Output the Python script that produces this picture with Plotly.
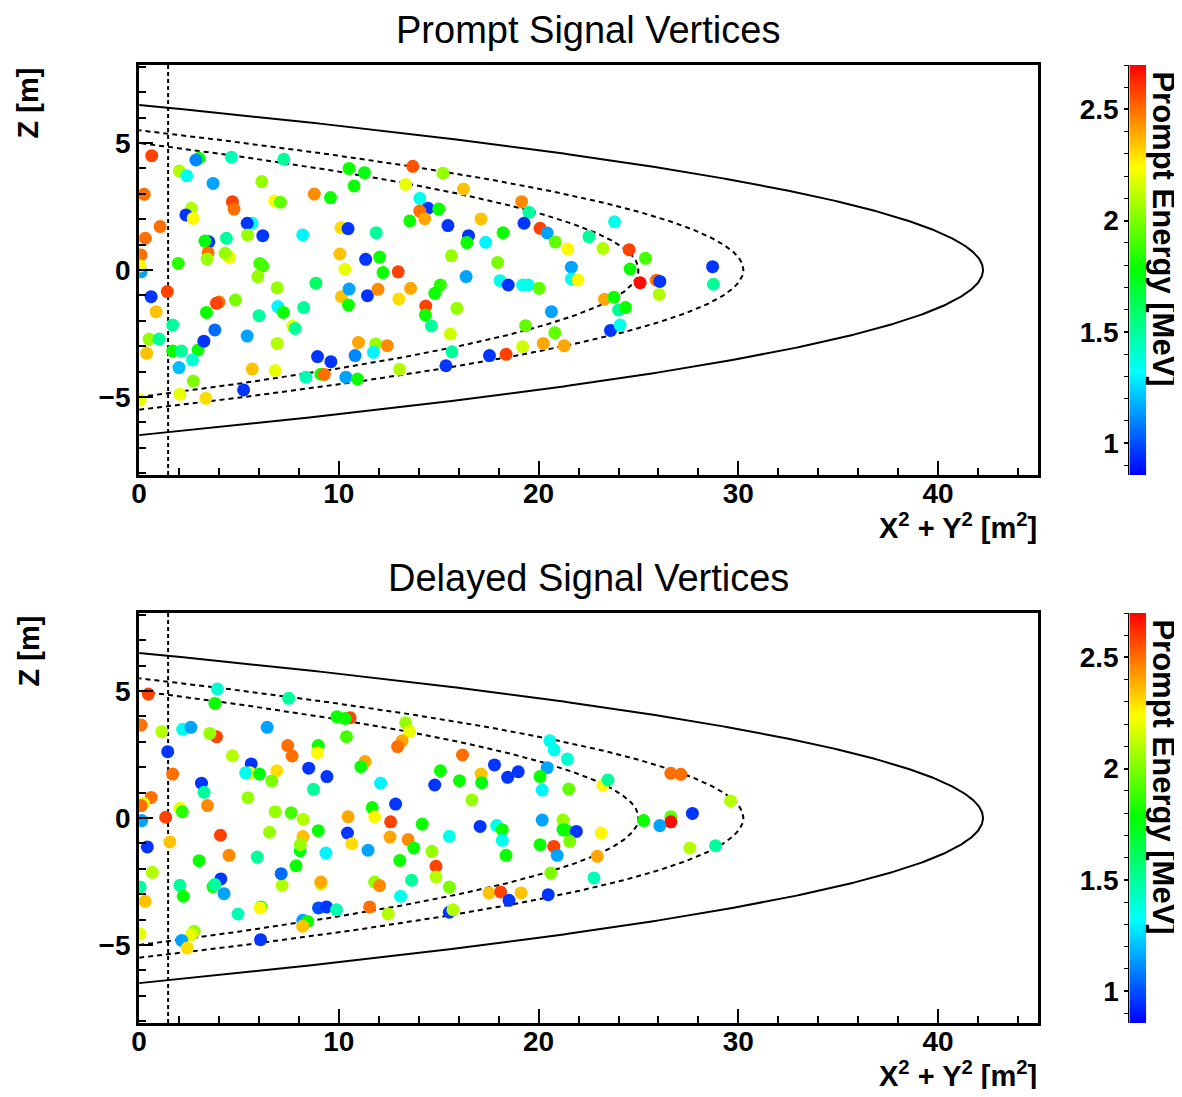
import numpy as np
import plotly.graph_objects as go

# ---------------- data ----------------
# Prompt panel: (X^2+Y^2 [m^2], Z [m], prompt energy [MeV])
prompt_r2 = [0.63, 3.0, 2.84, 4.62, 7.24, 2.01, 2.38, 3.70, 6.14, 10.51, 11.28, 13.70, 10.76, 13.34,
             0.25, 4.67, 4.75, 6.78, 7.07, 8.77, 9.58, 14.05, 14.46, 14.05, 14.30, 13.55, 2.62, 2.34,
             2.71, 1.05, 0.31, 0.10, 0.10, 0.05, 5.66, 5.41, 5.43, 6.19, 8.19, 4.37, 3.49, 3.29, 3.45,
             3.40, 4.53, 4.30, 1.96, 6.04, 6.19, 10.10, 10.46, 11.87, 10.05, 11.34, 12.04, 10.30, 12.21,
             12.97, 5.94,
             15.21, 16.24, 15.0, 15.46, 16.49, 16.41, 17.12, 17.35, 18.22, 15.63, 17.95, 19.15, 19.52,
             19.27, 20.07, 20.43, 20.84, 21.46, 21.64, 22.52, 23.22, 23.80, 24.53, 25.35, 24.58, 28.71,
             16.37, 18.07, 18.48, 19.2, 19.48, 20.03, 21.64, 21.97, 15.08, 14.80, 14.35, 14.33, 14.63,
             15.91, 15.58, 15.66, 15.36, 17.54, 18.37, 19.20, 20.23, 21.28, 19.35, 20.81, 20.64, 23.30,
             23.77, 24.0, 24.35, 23.60, 24.08, 25.08, 25.9, 26.07, 26.04, 28.75,
             0.60, 1.41, 0.85, 0.50, 1.0, 0.38, 0.05, 1.68, 1.68, 2.12, 2.95, 3.24, 3.79, 3.37, 4.0,
             3.87, 4.82, 1.99, 2.67, 2.71, 2.04, 3.34, 6.0, 6.91, 6.94, 7.22, 7.69, 7.81, 8.24, 8.85,
             5.41, 6.91, 5.66, 6.81, 5.23, 8.35, 9.1, 9.27, 8.93, 9.6, 10.35, 10.93, 10.98, 10.81, 11.84,
             12.42, 11.73, 13.04, 10.13, 10.51, 10.48, 11.43, 11.96, 13.59, 13.0]
prompt_z = [4.50, 4.40, 4.33, 4.44, 4.36, 3.90, 3.71, 3.41, 3.48, 4.0, 3.83, 4.08, 3.31, 3.37,
            2.98, 2.69, 2.40, 2.72, 2.67, 2.99, 2.85, 2.82, 2.43, 2.32, 2.02, 1.93, 2.43, 2.17,
            2.03, 1.71, 1.25, 0.59, -0.07, 0.16, 1.84, 1.84, 1.38, 1.35, 1.38, 1.25, 1.11, 1.14, 0.68,
            0.43, 0.50, 0.66, 0.26, 0.26, 0.16, 1.67, 1.63, 1.47, 0.63, 0.42, 0.51, 0.03, -0.10,
            -0.07, -0.26,
            3.81, 3.19, 2.40, 1.75, 1.35, 1.08, 2.01, 1.09, 1.47, 0.56, 0.30, 2.69, 2.27,
            1.84, 1.64, 1.46, 1.10, 0.83, 0.11, 1.31, 0.85, 1.90, 0.80, 0.46, 0.04, 0.13,
            -0.26, -0.42, -0.59, -0.59, -0.59, -0.72, -0.35, -0.39, -0.59, -0.92, -1.42, -1.77, -2.20,
            -1.51, -2.52, -3.22, -3.77, -3.37, -3.32, -3.02, -2.89, -2.98, -2.19, -2.47, -1.64, -1.15,
            -1.07, -1.57, -1.48, -2.38, -2.17, -0.50, -0.40, -0.45, -0.96, -0.56,
            -1.05, -0.85, -1.64, -2.72, -2.72, -3.28, -5.12, -2.17, -3.19, -3.19, -3.15, -2.80, -2.36, -1.67, -1.26,
            -1.31, -1.18, -3.84, -3.54, -4.37, -4.89, -5.05, -1.80, -0.70, -1.44, -1.67, -2.20, -2.30, -1.48, -0.52,
            -2.60, -2.89, -3.90, -3.96, -4.72, -4.22, -4.10, -4.11, -3.41, -3.61, -4.22, -4.29, -2.85, -3.37, -2.91,
            -2.98, -3.24, -3.91, -1.05, -0.75, -1.38, -1.01, -0.76, -0.72, -1.14]
prompt_e = [2.58, 1.8, 1.1, 1.45, 1.5, 2.1, 1.35, 1.15, 2.05, 1.8, 1.75, 2.55, 1.8, 2.2,
            2.5, 2.58, 2.5, 2.25, 1.95, 2.45, 1.8, 1.35, 0.95, 2.5, 2.4, 1.8, 2.1, 0.95,
            2.25, 2.5, 2.5, 2.5, 1.15, 2.25, 1.35, 0.95, 2.05, 0.95, 1.3, 1.5, 0.95, 1.75, 2.5,
            2.05, 2.2, 2.05, 1.85, 1.9, 1.9, 2.3, 0.95, 1.5, 2.35, 0.95, 1.8, 2.2, 1.8,
            2.58, 2.05,
            2.05, 2.35, 1.8, 0.95, 0.95, 1.8, 2.35, 1.3, 1.8, 2.05, 2.0, 2.45, 1.5,
            0.95, 2.58, 1.15, 1.95, 2.25, 1.15, 1.5, 2.1, 1.35, 2.58, 1.9, 1.8, 0.95,
            1.15, 1.35, 0.95, 1.35, 1.35, 1.95, 1.35, 2.25, 1.85, 1.8, 2.58, 1.8, 1.5,
            2.05, 2.15, 1.5, 0.95, 0.95, 2.58, 2.15, 2.4, 2.4, 1.95, 1.95, 1.15, 2.4,
            1.8, 1.5, 1.8, 0.95, 1.35, 2.68, 2.5, 0.95, 2.1, 1.5,
            0.95, 2.58, 2.35, 2.05, 1.5, 2.35, 2.2, 1.5, 1.8, 1.5, 1.8, 0.95, 1.05, 1.8, 2.5,
            2.58, 2.0, 1.2, 1.4, 2.0, 2.2, 2.3, 1.5, 2.05, 1.3, 1.8, 2.2, 1.5, 1.5, 1.6,
            1.15, 2.1, 2.35, 2.2, 0.95, 1.45, 1.8, 2.5, 0.95, 0.95, 1.15, 1.8, 2.4, 1.1, 2.05,
            2.45, 1.3, 2.1, 2.35, 1.15, 1.8, 0.95, 2.45, 2.4, 2.3]

# Delayed panel: (X^2+Y^2 [m^2], Z [m], prompt energy [MeV])
delayed_r2 = [0.46, 3.92, 3.79, 7.49, 10.56, 9.9, 10.31, 13.34, 13.54, 13.17, 12.94, 10.38, 0.10, 1.13,
              2.18, 2.59, 3.87, 3.54, 6.41, 1.43, 1.68, 4.67, 5.61, 5.55, 5.33, 6.03, 6.89, 6.64, 7.44,
              7.66, 8.97, 8.93, 8.49, 9.40, 8.73, 3.12, 3.25, 3.42, 5.45, 0.60, 0.21, 0.10, 2.04, 2.16,
              1.33, 0.13, 6.81, 7.61, 8.21, 10.46, 11.67, 11.79, 12.84, 12.59, 12.09, 11.31, 11.1, 14.8,
              14.17,
              20.56, 20.78, 21.44, 16.19, 17.79, 15.08, 16.04, 17.12, 17.15, 18.45, 18.98, 16.66, 20.43,
              20.07, 20.18, 21.51, 23.22, 23.47, 26.62, 27.12, 29.61, 27.70, 26.62, 26.62, 25.26, 26.07,
              20.18, 21.22, 17.07, 17.9,
              21.22, 21.39, 21.89, 21.56, 23.14, 18.18, 18.18, 18.37, 15.53, 20.07, 20.76, 20.93, 22.94,
              27.57, 28.86, 14.66, 14.86, 14.86, 15.53, 20.61, 22.77, 17.52, 18.1, 19.12, 18.52, 20.48,
              15.53, 15.71,
              0.41, 1.54, 0.66, 0.05, 0.3, 0.05, 3.0, 2.04, 2.21, 4.07, 4.50, 4.09, 3.7, 3.79, 4.25,
              4.95, 2.76, 2.6, 2.13, 2.41, 6.08, 5.91, 6.53, 7.16, 7.11, 6.1, 6.06, 7.86, 8.06, 8.2,
              8.07, 8.97, 9.35, 10.43, 10.65, 11.46, 12.56, 13.47, 13.75, 13.05, 9.1, 9.1, 11.79, 12.04,
              13.64, 13.09, 11.54, 12.47, 8.98, 9.38, 9.88, 8.19, 8.44, 8.19]
delayed_z = [4.88, 5.08, 4.51, 4.71, 3.95, 3.99, 3.92, 3.75, 3.40, 3.04, 2.81, 3.20, 3.66, 3.40,
             3.49, 3.57, 3.20, 3.33, 3.57, 2.61, 1.73, 2.45, 2.13, 1.78, 1.78, 1.73, 1.86, 1.46, 2.85,
             2.44, 2.85, 2.57, 1.96, 1.63, 1.13, 1.37, 1.01, 0.49, 0.80, 0.81, 0.58, 0.49, 0.38, 0.25,
             0.03, -0.10, 0.25, 0.21, -0.05, 0.05, 0.41, 0.05, 0.55, -0.15, 1.37, 2.22, 2.02, 1.30,
             -0.24,
             3.04, 2.68, 2.32, 2.48, 2.09, 1.86, 1.47, 1.73, 1.39, 1.60, 1.82, 0.71, 1.98,
             1.63, 1.10, 1.14, 1.29, 1.50, 1.76, 1.72, 0.67, 0.18, 0.05, -0.15, -0.10, -0.30,
             -0.08, -0.08, -0.33, -0.30,
             -0.46, -0.49, -0.53, -0.92, -0.59, -0.46, -0.88, -1.47, -0.72, -1.05, -1.12, -1.47, -1.51,
             -1.18, -1.09, -1.31, -1.90, -2.32, -2.72, -2.17, -2.36, -2.95, -2.91, -2.95, -3.24, -3.02,
             -3.71, -3.61,
             -1.14, -0.94, -2.14, -2.72, -3.28, -4.57, -1.68, -2.65, -3.08, -0.68, -1.47, -2.40, -2.70, -2.62, -2.98,
             -3.78, -4.46, -4.60, -4.82, -5.12, -4.79, -1.54, -0.56, -2.65, -2.19, -3.50, -3.54, -1.88, -1.29, -0.73,
             -1.05, -0.50, -1.38, -0.59, -1.01, -1.27, -0.75, -0.85, -1.18, -1.67, -2.60, -2.52, -2.52, -2.66,
             -2.45, -3.08, -3.50, -3.78, -3.54, -3.50, -3.61, -4.03, -4.07, -4.26]
delayed_e = [2.58, 1.4, 1.8, 1.5, 2.58, 1.8, 1.8, 2.05, 2.2, 2.4, 2.5, 1.9, 2.5, 2.1,
             1.35, 1.15, 2.58, 2.05, 1.15, 0.95, 2.5, 2.1, 0.95, 2.2, 1.35, 1.75, 2.3, 2.0, 2.5,
             2.5, 1.8, 2.25, 0.95, 0.95, 1.5, 0.95, 1.5, 2.45, 2.05, 2.5, 2.2, 2.5, 2.2, 1.85,
             2.58, 1.15, 2.05, 1.9, 2.1, 2.4, 1.8, 2.25, 0.95, 2.58, 1.3, 2.4, 1.8, 0.95,
             1.8,
             1.35, 1.35, 1.4, 2.5, 0.95, 1.8, 1.8, 2.35, 1.75, 0.95, 0.95, 2.05, 1.15,
             1.8, 1.3, 1.95, 2.25, 1.5, 2.5, 2.5, 2.1, 0.95, 1.95, 2.68, 1.8, 1.15,
             1.15, 2.05, 0.95, 1.35,
             1.75, 1.8, 0.95, 2.0, 2.25, 1.8, 1.35, 1.8, 1.35, 1.8, 2.58, 1.15, 2.4,
             2.1, 1.5, 2.05, 2.58, 2.1, 2.0, 2.0, 1.45, 2.35, 2.58, 2.35, 0.95, 0.95,
             0.95, 2.1,
             0.95, 2.35, 2.1, 1.5, 2.35, 2.2, 1.8, 1.5, 1.8, 2.58, 2.45, 0.95, 1.8, 1.5, 1.15,
             1.45, 2.05, 2.2, 1.15, 2.3, 0.95, 1.5, 2.05, 2.1, 1.05, 1.8, 2.25, 1.8, 1.75, 2.35,
             2.05, 1.8, 1.3, 0.95, 2.3, 1.15, 2.4, 2.45, 1.8, 1.8, 2.15, 2.4, 2.05, 2.45,
             1.5, 1.35, 2.5, 2.1, 1.0, 0.95, 1.45, 1.15, 1.8, 2.35]

panel_titles = ["Prompt Signal Vertices", "Delayed Signal Vertices"]
x_title = "X<sup>2</sup> + Y<sup>2</sup> [m<sup>2</sup>]"
y_title = "Z [m]"
cbar_title = "Prompt Energy [MeV]"

# detector boundaries (radii in m) and the r^2 cut line
solid_radius = 6.5
dotted_radii = [5.5, 5.0]
r2_cut = 1.45

E_MIN, E_MAX = 0.856, 2.70
X_RANGE = [0, 45]
Z_RANGE = [-8.07, 8.07]

# ---------------- styling ----------------
PAGE_W, PAGE_H = 1182, 1097
OFF = 8                      # default body margin of the html page
W, H = PAGE_W - 2 * OFF, PAGE_H - 2 * OFF
FONT = "Liberation Sans"
cscale = [[0.0, "rgb(0,0,255)"], [0.25, "rgb(0,255,255)"], [0.5, "rgb(0,255,0)"],
          [0.75, "rgb(255,255,0)"], [1.0, "rgb(255,0,0)"]]

def px2x(p):
    return (p - OFF) / W

def py2y(p):
    return 1 - (p - OFF) / H

panel_px = [(65, 475), (613, 1023)]
X0, X1 = 132, 1037
CB0, CB1 = 1129, 1146

fig = go.Figure()

datasets = [(prompt_r2, prompt_z, prompt_e), (delayed_r2, delayed_z, delayed_e)]
zz = np.linspace(-solid_radius, solid_radius, 401)

for i, (r2, z, e) in enumerate(datasets):
    xa = "x" if i == 0 else "x2"
    ya = "y" if i == 0 else "y2"
    fig.add_trace(go.Scatter(x=solid_radius**2 - zz**2, y=zz, mode="lines",
                             line=dict(color="black", width=2), xaxis=xa, yaxis=ya,
                             showlegend=False, hoverinfo="skip"))
    for R in dotted_radii:
        zr = np.linspace(-R, R, 401)
        fig.add_trace(go.Scatter(x=R**2 - zr**2, y=zr, mode="lines",
                                 line=dict(color="black", width=2, dash="5px,4px"),
                                 xaxis=xa, yaxis=ya, showlegend=False, hoverinfo="skip"))
    fig.add_trace(go.Scatter(x=[r2_cut, r2_cut], y=Z_RANGE, mode="lines",
                             line=dict(color="black", width=2, dash="4px,3px"),
                             xaxis=xa, yaxis=ya, showlegend=False, hoverinfo="skip"))
    fig.add_trace(go.Scatter(x=r2, y=z, mode="markers", xaxis=xa, yaxis=ya,
                             marker=dict(size=13, color=e, colorscale=cscale, cmin=E_MIN, cmax=E_MAX,
                                         line=dict(width=0)),
                             showlegend=False))
    levels = np.linspace(E_MIN, E_MAX, 300)
    cxa = "x3" if i == 0 else "x4"
    cya = "y3" if i == 0 else "y4"
    fig.add_trace(go.Heatmap(x=[0], y=levels, z=[[v] for v in levels], colorscale=cscale,
                             zmin=E_MIN, zmax=E_MAX, showscale=False, xaxis=cxa, yaxis=cya,
                             hoverinfo="skip"))

tickfont = dict(family=FONT, size=28, color="black", weight="bold")

def frame_x(dom, anchor):
    return dict(domain=dom, range=X_RANGE, anchor=anchor, showgrid=False, zeroline=False,
                showline=True, linewidth=3, linecolor="black", mirror=True,
                ticks="inside", ticklen=14, tickwidth=2, tickcolor="black", dtick=10, tick0=0,
                minor=dict(dtick=2, ticks="inside", ticklen=7, tickwidth=2, tickcolor="black"),
                tickfont=tickfont, ticklabelstandoff=-9)

def frame_y(dom, anchor):
    return dict(domain=dom, range=Z_RANGE, anchor=anchor, showgrid=False, zeroline=False,
                showline=True, linewidth=3, linecolor="black", mirror=True,
                ticks="inside", ticklen=14, tickwidth=2, tickcolor="black", dtick=5, tick0=0,
                minor=dict(dtick=1, ticks="inside", ticklen=7, tickwidth=2, tickcolor="black"),
                tickfont=tickfont)

def cb_x(dom, anchor):
    return dict(domain=dom, range=[-0.5, 0.5], anchor=anchor, showgrid=False, zeroline=False,
                showticklabels=False, ticks="", showline=False)

def cb_y(dom, anchor):
    return dict(domain=dom, range=[E_MIN, E_MAX], anchor=anchor, side="left", showgrid=False,
                zeroline=False, showline=True, linewidth=1, linecolor="black",
                ticks="outside", ticklen=4, tickwidth=1.5, tickcolor="black", dtick=0.5, tick0=1,
                minor=dict(dtick=0.1, ticks="outside", ticklen=4, tickwidth=1, tickcolor="black"),
                tickfont=tickfont)

xdom = [px2x(X0), px2x(X1)]
cbdom = [px2x(CB0), px2x(CB1)]
ydoms = [[py2y(b), py2y(t)] for (t, b) in panel_px]

fig.update_layout(
    width=W, height=H, margin=dict(l=0, r=0, t=0, b=0),
    paper_bgcolor="white", plot_bgcolor="white",
    font=dict(family=FONT, color="black"),
    xaxis=frame_x(xdom, "y"), yaxis=frame_y(ydoms[0], "x"),
    xaxis2=frame_x(xdom, "y2"), yaxis2=frame_y(ydoms[1], "x2"),
    xaxis3=cb_x(cbdom, "y3"), yaxis3=cb_y(ydoms[0], "x3"),
    xaxis4=cb_x(cbdom, "y4"), yaxis4=cb_y(ydoms[1], "x4"),
)

annotations = []
title_y = [30, 578]
for i in range(2):
    top, bot = panel_px[i]
    annotations.append(dict(text=panel_titles[i], x=px2x(584), y=py2y(title_y[i]), xref="paper", yref="paper",
                            xanchor="center", yanchor="middle", showarrow=False,
                            font=dict(family=FONT, size=38, color="black")))
    annotations.append(dict(text=x_title, x=px2x(X1 + 1), y=py2y(bot + 51), xref="paper", yref="paper",
                            xanchor="right", yanchor="middle", showarrow=False,
                            font=dict(family=FONT, size=29, color="black", weight="bold")))
    annotations.append(dict(text=y_title, x=px2x(21), y=py2y(top), xref="paper", yref="paper",
                            xanchor="center", yanchor="top", textangle=-90, showarrow=False,
                            font=dict(family=FONT, size=29, color="black", weight="bold")))
    annotations.append(dict(text=cbar_title, x=px2x(1163), y=py2y(top + 4), xref="paper", yref="paper",
                            xanchor="center", yanchor="top", textangle=90, showarrow=False,
                            font=dict(family=FONT, size=31, color="black", weight="bold")))
fig.update_layout(annotations=annotations)

fig.write_html("out.html")
